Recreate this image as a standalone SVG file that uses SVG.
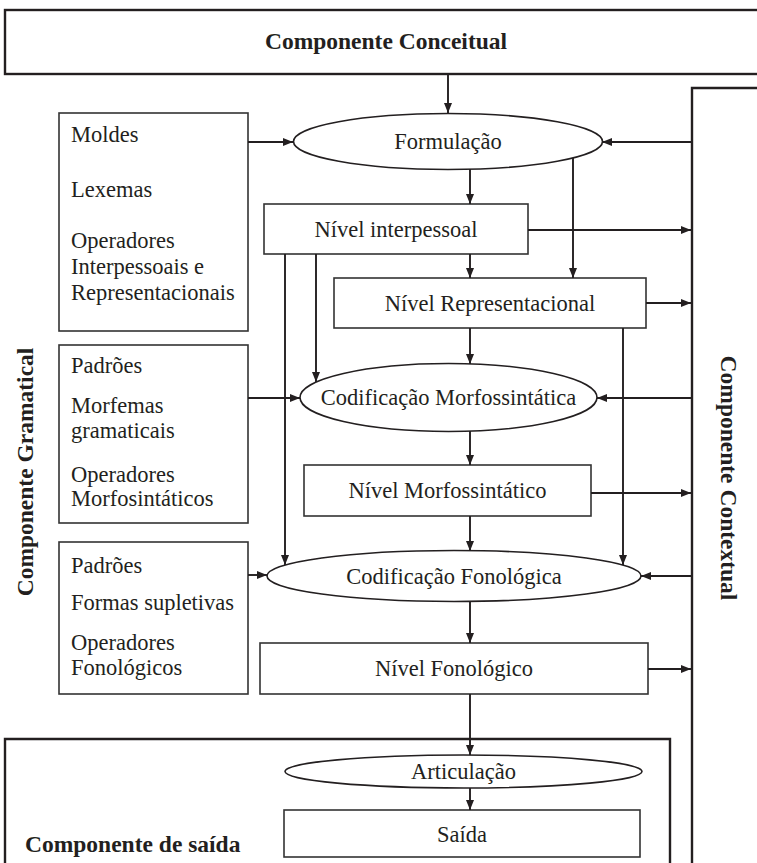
<svg xmlns="http://www.w3.org/2000/svg" width="757" height="863" viewBox="0 0 757 863">
<style>
  .t{font-family:"Liberation Serif","Times New Roman",serif;font-size:22.5px;fill:#231f20}
  .c{text-anchor:middle}
  .b{font-family:"Liberation Serif","Times New Roman",serif;font-size:23.5px;font-weight:bold;fill:#231f20}
  .box{fill:#fff;stroke:#333;stroke-width:1.6}
  .ell{fill:#fff;stroke:#231f20;stroke-width:1.6}
  .big{fill:none;stroke:#231f20;stroke-width:2.4}
  .con line{stroke:#231f20;stroke-width:1.9}
  .a{marker-end:url(#ah)}
</style>
<defs>
  <marker id="ah" markerUnits="userSpaceOnUse" markerWidth="11" markerHeight="8" refX="10" refY="4" orient="auto">
    <path d="M0,0 L10,4 L0,8 Z" fill="#231f20"/>
  </marker>
</defs>
<rect width="757" height="863" fill="#fff"/>

<g id="conceitual">
  <rect class="big" x="5" y="10" width="760" height="64"/>
  <text class="b c" x="386" y="49">Componente Conceitual</text>
</g>
<g id="contextual">
  <path class="big" d="M692,870 L692,88 L765,88"/>
  <text class="b c" transform="translate(721,478) rotate(90)">Componente Contextual</text>
</g>
<g id="saida-comp">
  <path class="big" d="M5,870 L5,739 L670,739 L670,870"/>
  <text class="b" x="25" y="852">Componente de saída</text>
</g>
<g id="gramatical">
  <text class="b c" transform="translate(33,472) rotate(-90)">Componente Gramatical</text>
</g>

<g id="box1">
  <rect class="box" x="59" y="113" width="189" height="218"/>
  <text class="t" x="71" y="142">Moldes</text>
  <text class="t" x="71" y="197">Lexemas</text>
  <text class="t" x="71" y="248">Operadores</text>
  <text class="t" x="71" y="274">Interpessoais e</text>
  <text class="t" x="71" y="300">Representacionais</text>
</g>
<g id="box2">
  <rect class="box" x="59" y="345" width="189" height="178"/>
  <text class="t" x="71" y="373">Padrões</text>
  <text class="t" x="71" y="413">Morfemas</text>
  <text class="t" x="71" y="438">gramaticais</text>
  <text class="t" x="71" y="482">Operadores</text>
  <text class="t" x="71" y="506">Morfosintáticos</text>
</g>
<g id="box3">
  <rect class="box" x="59" y="542" width="189" height="152"/>
  <text class="t" x="71" y="573">Padrões</text>
  <text class="t" x="71" y="610">Formas supletivas</text>
  <text class="t" x="71" y="650">Operadores</text>
  <text class="t" x="71" y="675">Fonológicos</text>
</g>

<g id="formulacao">
  <ellipse class="ell" cx="448" cy="141.5" rx="154.5" ry="28"/>
  <text class="t c" x="448" y="149">Formulação</text>
</g>
<g id="nivel-interpessoal">
  <rect class="box" x="264" y="204" width="264" height="50"/>
  <text class="t c" x="396" y="237">Nível interpessoal</text>
</g>
<g id="nivel-representacional">
  <rect class="box" x="334" y="278" width="312" height="50"/>
  <text class="t c" x="490" y="311">Nível Representacional</text>
</g>
<g id="cod-morf">
  <ellipse class="ell" cx="448.5" cy="397.5" rx="148.5" ry="34"/>
  <text class="t c" x="448.5" y="405">Codificação Morfossintática</text>
</g>
<g id="nivel-morf">
  <rect class="box" x="304" y="465" width="287" height="51"/>
  <text class="t c" x="447.5" y="498">Nível Morfossintático</text>
</g>
<g id="cod-fon">
  <ellipse class="ell" cx="454" cy="576" rx="187" ry="25.5"/>
  <text class="t c" x="454" y="584">Codificação Fonológica</text>
</g>
<g id="nivel-fon">
  <rect class="box" x="260" y="643" width="388" height="51"/>
  <text class="t c" x="454" y="676">Nível Fonológico</text>
</g>
<g id="articulacao">
  <ellipse class="ell" cx="463.5" cy="771.5" rx="178.5" ry="16.5"/>
  <text class="t c" x="463.5" y="779">Articulação</text>
</g>
<g id="saida">
  <rect class="box" x="284" y="810" width="356" height="47"/>
  <text class="t c" x="462" y="842">Saída</text>
</g>

<g id="connectors" class="con">
  <line class="a" x1="448" y1="75" x2="448" y2="113"/>
  <line class="a" x1="248" y1="142" x2="293" y2="142"/>
  <line class="a" x1="692" y1="142" x2="602" y2="142"/>
  <line class="a" x1="470" y1="169" x2="470" y2="204"/>
  <line class="a" x1="573" y1="158" x2="573" y2="278"/>
  <line class="a" x1="528" y1="230" x2="691" y2="230"/>
  <line class="a" x1="470" y1="254" x2="470" y2="278"/>
  <line class="a" x1="285" y1="254" x2="285" y2="565"/>
  <line class="a" x1="316" y1="254" x2="316" y2="382"/>
  <line class="a" x1="646" y1="303" x2="691" y2="303"/>
  <line class="a" x1="470" y1="328" x2="470" y2="364"/>
  <line class="a" x1="623" y1="328" x2="623" y2="565"/>
  <line class="a" x1="248" y1="398" x2="300" y2="398"/>
  <line class="a" x1="692" y1="398" x2="597" y2="398"/>
  <line class="a" x1="470" y1="431" x2="470" y2="465"/>
  <line class="a" x1="591" y1="493" x2="691" y2="493"/>
  <line class="a" x1="470" y1="516" x2="470" y2="551"/>
  <line class="a" x1="248" y1="575" x2="267" y2="575"/>
  <line class="a" x1="692" y1="576" x2="641" y2="576"/>
  <line class="a" x1="470" y1="601" x2="470" y2="643"/>
  <line class="a" x1="648" y1="669" x2="691" y2="669"/>
  <line class="a" x1="470" y1="694" x2="470" y2="755"/>
  <line class="a" x1="470" y1="788" x2="470" y2="810"/>
</g>
</svg>
